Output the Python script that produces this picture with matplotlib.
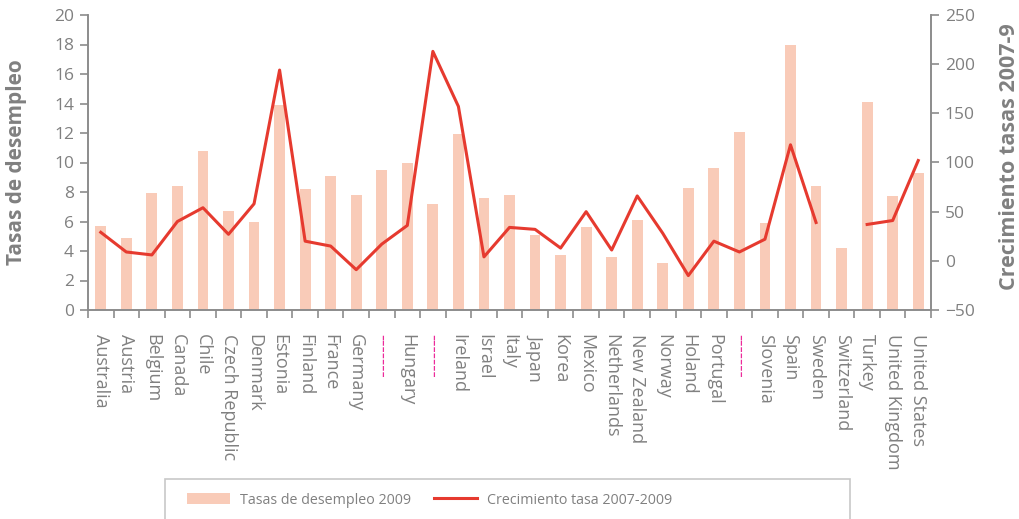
import numpy as np
import matplotlib
matplotlib.use("Agg")
import matplotlib.pyplot as plt
from matplotlib.patches import Rectangle

# data
countries = [
    "Australia", "Austria", "Belgium", "Canada", "Chile", "Czech Republic",
    "Denmark", "Estonia", "Finland", "France", "Germany", "-------",
    "Hungary", "-------", "Ireland", "Israel", "Italy", "Japan", "Korea",
    "Mexico", "Netherlands", "New Zealand", "Norway", "Holand", "Portugal",
    "-------", "Slovenia", "Spain", "Sweden", "Switzerland", "Turkey",
    "United Kingdom", "United States",
]
desempleo_2009 = [
    5.7, 4.9, 7.9, 8.4, 10.8, 6.7, 6.0, 13.9, 8.2, 9.1, 7.8, 9.5,
    10.0, 7.2, 11.9, 7.6, 7.8, 5.1, 3.7, 5.6, 3.6, 6.1, 3.2, 8.3, 9.6,
    12.1, 5.9, 18.0, 8.4, 4.2, 14.1, 7.7, 9.3,
]
crecimiento = [
    29, 9, 6, 40, 54, 27, 58, 194, 20, 15, -9, 17,
    36, 213, 157, 4, 34, 32, 13, 50, 11, 66, 28, -15, 20,
    9, 22, 118, 39, np.nan, 37, 41, 102,
]

GRAY = "#808080"
SPINE = "#8c8c8c"
BAR = "#F9CBB8"
RED = "#E63A2F"
MAGENTA = "#EC2A9A"

plt.rcParams["font.family"] = ["Open Sans", "DejaVu Sans"]
plt.rcParams["font.size"] = 10

fig = plt.figure(figsize=(10.19, 5.19), dpi=100)
ax = fig.add_axes([88 / 1019, 1 - 310 / 519, (931 - 88) / 1019, 295 / 519])
ax2 = ax.twinx()

x = np.arange(len(countries))
ax.bar(x, desempleo_2009, width=0.42, color=BAR, zorder=2,
       label="Tasas de desempleo 2009")
ax2.plot(x, crecimiento, color=RED, lw=2.2, zorder=3,
         label="Crecimiento tasa 2007-2009")

ax.set_xlim(-0.5, len(countries) - 0.5)
ax.set_ylim(0, 20)
ax.set_yticks(np.arange(0, 21, 2))
ax2.set_ylim(-50, 250)
ax2.set_yticks(np.arange(-50, 251, 50))

# ticks between categories, labels at centres
ax.set_xticks(np.arange(-0.5, len(countries), 1))
ax.set_xticklabels([])
ax.set_xticks(x, minor=True)
ax.set_xticklabels(countries, minor=True, rotation=-90, va="top",
                   ha="center", fontsize=13, color=GRAY)
ax.tick_params(axis="x", which="minor", length=0, pad=17)
ax.tick_params(axis="x", which="major", length=6, width=1.2, color=SPINE)
for lbl in ax.get_xticklabels(minor=True):
    if lbl.get_text().startswith("-"):
        lbl.set_color(MAGENTA)
        lbl.set_fontsize(14)

for a in (ax, ax2):
    a.spines["top"].set_visible(False)
    for s in ("left", "right", "bottom"):
        a.spines[s].set_color(SPINE)
        a.spines[s].set_linewidth(1.2)
ax.tick_params(axis="y", length=6, width=1.2, color=SPINE,
               labelcolor=GRAY, labelsize=12.5, pad=4)
ax2.tick_params(axis="y", length=6, width=1.2, color=SPINE,
                labelcolor=GRAY, labelsize=12.5, pad=4)

ax.set_ylabel("Tasas de desempleo", color=GRAY, fontsize=15,
              fontweight="bold")
ax.yaxis.set_label_coords(-(88 - 27) / 843, 0.5)
ax2.set_ylabel("Crecimiento tasas 2007-9", color=GRAY, fontsize=15.5,
               fontweight="bold", rotation=90)
ax2.yaxis.set_label_coords(1 + (999 - 931) / 843, 0.52)

# legend box at the bottom, cut by the figure edge
fig.patches.append(Rectangle((165 / 1019, -0.05), (850 - 165) / 1019,
                             0.05 + 1 - 479 / 519, transform=fig.transFigure,
                             fill=False, edgecolor="#c8c8c8", lw=1.2))
h1, l1 = ax.get_legend_handles_labels()
h2, l2 = ax2.get_legend_handles_labels()
fig.legend(h1 + h2, l1 + l2, ncol=2, frameon=False,
           loc="center left", bbox_to_anchor=(174 / 1019, 1 - 500 / 519),
           fontsize=10.3, labelcolor=GRAY, handlelength=3.0,
           handleheight=0.75, columnspacing=1.6, handletextpad=0.7)

fig.savefig("out.png", dpi=100)
